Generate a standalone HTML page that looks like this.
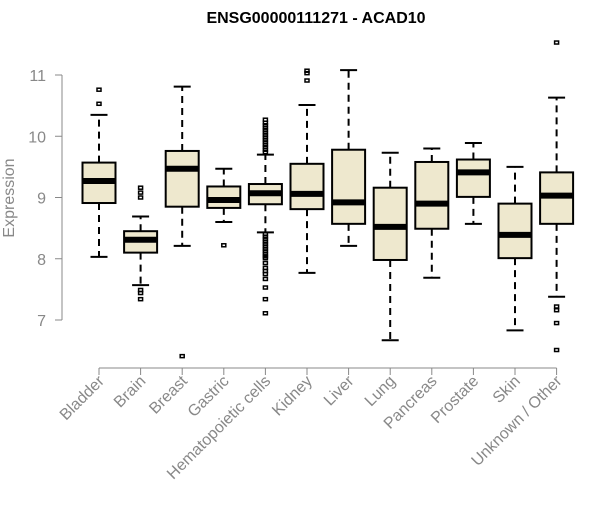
<!DOCTYPE html>
<html><head><meta charset="utf-8"><style>
body{margin:0;background:#fff;}
svg text{font-family:"Liberation Sans",Arial,sans-serif;}
</style></head><body>
<svg id="chart" width="600" height="500" xmlns="http://www.w3.org/2000/svg">
<text x="316" y="23" text-anchor="middle" font-size="16" font-weight="bold">ENSG00000111271 - ACAD10</text>
<text transform="translate(14,198) rotate(-90)" text-anchor="middle" font-size="16" fill="#888">Expression</text>
<g id="axes"></g><g id="boxes"></g>
</svg>
<script>
const categories=["Bladder","Brain","Breast","Gastric","Hematopoietic cells","Kidney","Liver","Lung","Pancreas","Prostate","Skin","Unknown / Other"];
const whiskerLow=[8.03,7.57,8.21,8.60,8.43,7.77,8.21,6.67,7.69,8.57,6.83,7.38];
const q1=[8.91,8.10,8.85,8.83,8.89,8.81,8.57,7.98,8.49,9.01,8.01,8.57];
const median=[9.27,8.31,9.47,8.96,9.07,9.06,8.92,8.52,8.90,9.41,8.39,9.03];
const q3=[9.57,8.45,9.76,9.18,9.22,9.55,9.78,9.16,9.58,9.62,8.90,9.41];
const whiskerHigh=[10.35,8.69,10.81,9.47,9.70,10.51,11.08,9.73,9.80,9.89,9.50,10.63];
const outliers=[[10.76,10.53],[9.16,9.08,9.0,7.49,7.44,7.34],[6.41],[8.22],
[9.74,9.78,9.82,9.86,9.9,9.94,9.98,10.02,10.06,10.1,10.14,10.18,10.22,10.27,8.40,8.36,8.32,8.28,8.24,8.2,8.16,8.12,8.08,8.04,8.01,7.93,7.85,7.8,7.75,7.67,7.53,7.34,7.11],
[11.07,11.03,10.91],[],[],[],[],[],[11.53,7.22,7.16,6.95,6.51]];
const yTicks=[7,8,9,10,11];
const NS="http://www.w3.org/2000/svg";
const y=v=>320-(v-7)*61.25;
const x=i=>99+i*41.6;
function mk(tag,attrs,parent){const e=document.createElementNS(NS,tag);for(const k in attrs)e.setAttribute(k,attrs[k]);parent.appendChild(e);return e;}
const ax=document.getElementById('axes'),bx=document.getElementById('boxes');
let l=mk('line',{x1:62,x2:62,y1:y(11),y2:y(7),stroke:'#888','stroke-width':1},ax);


yTicks.forEach(t=>{
 let tk=mk('line',{x1:55,x2:62,y1:y(t),y2:y(t),stroke:'#888'},ax);
 
 
 let tx=mk('text',{x:46,y:y(t)+6,'text-anchor':'end','font-size':16,fill:'#888'},ax);
 tx.textContent=t;
 
 
});
l=mk('line',{x1:x(0),x2:x(11),y1:368,y2:368,stroke:'#888'},ax);


categories.forEach((c,i)=>{
 const cx=x(i);
 let tk=mk('line',{x1:cx,x2:cx,y1:368,y2:375,stroke:'#888'},ax);
 
 
 let tx=mk('text',{transform:`translate(${cx+6},${382}) rotate(-45)`,'text-anchor':'end','font-size':16,fill:'#888'},ax);
 tx.textContent=c;
 
 
 const g=mk('g',{},bx);
 
 
 const d={stroke:'#000','stroke-width':2,'stroke-dasharray':'7,5'};
 mk('line',Object.assign({x1:cx,x2:cx,y1:y(q3[i]),y2:y(whiskerHigh[i])},d),g);
 mk('line',Object.assign({x1:cx,x2:cx,y1:y(q1[i]),y2:y(whiskerLow[i])},d),g);
 mk('line',{x1:cx-8.5,x2:cx+8.5,y1:y(whiskerHigh[i]),y2:y(whiskerHigh[i]),stroke:'#000','stroke-width':2},g);
 mk('line',{x1:cx-8.5,x2:cx+8.5,y1:y(whiskerLow[i]),y2:y(whiskerLow[i]),stroke:'#000','stroke-width':2},g);
 mk('rect',{x:cx-16.5,y:y(q3[i]),width:33,height:y(q1[i])-y(q3[i]),fill:'#EEE8CE',stroke:'#000','stroke-width':2},g);
 mk('line',{x1:cx-16.5,x2:cx+16.5,y1:y(median[i]),y2:y(median[i]),stroke:'#000','stroke-width':6},g);
 outliers[i].forEach(o=>{
  let p=mk('rect',{x:cx-2,y:y(o)-1.5,width:4,height:3,fill:'none',stroke:'#000','stroke-width':1.5},g);
  
  
 });
});
</script>
</body></html>
